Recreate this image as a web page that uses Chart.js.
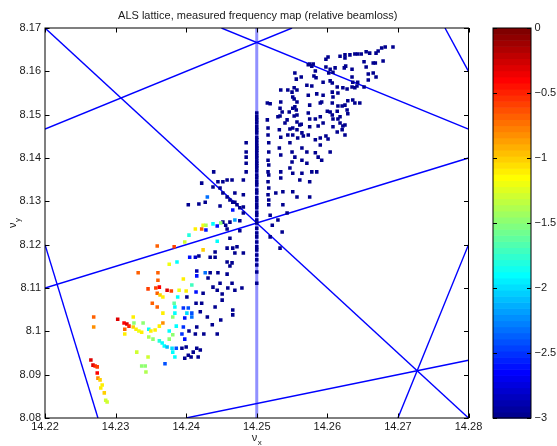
<!DOCTYPE html>
<html><head><meta charset="utf-8">
<script src="https://cdn.jsdelivr.net/npm/chart.js@4.4.1/dist/chart.umd.min.js"></script>
<style>html,body{margin:0;padding:0;background:#fff;}#wrap{width:557px;height:446px;}</style>
</head><body><div id="wrap"><canvas id="c" width="557" height="446"></canvas></div>
<script>
const chartTitle = 'ALS lattice, measured frequency map (relative beamloss)';
const xTicks = [14.22, 14.23, 14.24, 14.25, 14.26, 14.27, 14.28];
const yTicks = [8.08, 8.09, 8.10, 8.11, 8.12, 8.13, 8.14, 8.15, 8.16, 8.17];
const cbTicks = [-3, -2.5, -2, -1.5, -1, -0.5, 0];
const lossRange = [-3, 0];

// resonance lines (endpoints in tune space)
const resonanceLines = [
  [[14.22, 8.17], [14.28, 8.08]],        // 3nx+2ny=59
  [[14.22, 8.14667], [14.255, 8.17]],    // 2nx-3ny=4
  [[14.245, 8.17], [14.28, 8.14667]],    // 2nx+3ny=53
  [[14.22, 8.11], [14.28, 8.14]],        // nx-2ny=-2
  [[14.22, 8.12], [14.2275, 8.08]],      // 4nx+ny=65
  [[14.24, 8.08], [14.28, 8.09333]],     // nx-3ny=-10
  [[14.27, 8.08], [14.28, 8.12]],        // 4nx-ny=49
  [[14.27667, 8.17], [14.28, 8.16]]      // 3nx+ny=51
];
const integerLine = [[14.25, 8.08], [14.25, 8.17]];

// surviving particles (beamloss <= -3)
const upperCluster = [[14.2693,8.1656],[14.2682,8.1656],[14.2677,8.1654],[14.2672,8.1647],[14.2669,8.1642],[14.2660,8.1642],[14.2655,8.1645],[14.2648,8.1640],[14.2643,8.1640],[14.2639,8.1640],[14.2632,8.1638],[14.2625,8.1638],[14.2618,8.1635],[14.2625,8.1631],[14.2601,8.1633],[14.2598,8.1628],[14.2652,8.1622],[14.2665,8.1619],[14.2668,8.1619],[14.2679,8.1624],[14.2655,8.1610],[14.2635,8.1605],[14.2624,8.1608],[14.2626,8.1612],[14.2611,8.1608],[14.2604,8.1605],[14.2598,8.1610],[14.2580,8.1617],[14.2575,8.1617],[14.2573,8.1615],[14.2578,8.1612],[14.2583,8.1601],[14.2602,8.1596],[14.2608,8.1598],[14.2658,8.1594],[14.2665,8.1596],[14.2669,8.1587],[14.2635,8.1587],[14.2636,8.1575],[14.2643,8.1575],[14.2642,8.1566],[14.2635,8.1564],[14.2628,8.1559],[14.2639,8.1562],[14.2658,8.1580],[14.2652,8.1564],[14.2581,8.1589],[14.2584,8.1585],[14.2554,8.1596],[14.2563,8.1587],[14.2556,8.1582],[14.2594,8.1575],[14.2604,8.1578],[14.2607,8.1573],[14.2614,8.1564],[14.2571,8.1568],[14.2578,8.1566],[14.2553,8.1562],[14.2557,8.1557],[14.2607,8.1552],[14.2615,8.1550],[14.2622,8.1562],[14.2585,8.1548],[14.2594,8.1545],[14.2573,8.1545],[14.2551,8.1541],[14.2553,8.1536],[14.2557,8.1529],[14.2608,8.1541],[14.2592,8.1529],[14.2590,8.1527],[14.2575,8.1522],[14.2607,8.1527],[14.2629,8.1532],[14.2636,8.1534],[14.2639,8.1527],[14.2646,8.1527],[14.2615,8.1520],[14.2621,8.1520],[14.2625,8.1522],[14.2554,8.1518],[14.2551,8.1515],[14.2556,8.1511],[14.2600,8.1508],[14.2604,8.1506],[14.2614,8.1508],[14.2628,8.1511],[14.2573,8.1504],[14.2557,8.1499],[14.2553,8.1497],[14.2629,8.1502],[14.2590,8.1495],[14.2608,8.1490],[14.2615,8.1490],[14.2575,8.1490],[14.2583,8.1490],[14.2557,8.1483],[14.2563,8.1478],[14.2618,8.1481],[14.2587,8.1474],[14.2575,8.1472],[14.2608,8.1472],[14.2622,8.1474],[14.2551,8.1469],
[14.2534,8.1557],[14.2544,8.1557],[14.2550,8.1552],[14.2519,8.1525],[14.2534,8.1529],[14.2533,8.1515],[14.2536,8.1506],[14.2546,8.1506],[14.2543,8.1488],[14.2533,8.1497],[14.2561,8.1476],[14.2557,8.1465],[14.2547,8.1467],[14.2566,8.1451]];

const middleCluster = [[14.2485,8.1435],[14.2485,8.1414],[14.2485,8.1402],[14.2485,8.1388],[14.2485,8.1368],[14.2481,8.1349],[14.2465,8.1349],[14.2481,8.1315],
[14.2515,8.1527],[14.2515,8.1488],[14.2516,8.1469],[14.2516,8.1453],[14.2517,8.1435],[14.2517,8.1414],[14.2516,8.1395],[14.2517,8.1384],[14.2516,8.1368],[14.2517,8.1361],[14.2516,8.1345],[14.2517,8.1331],[14.2516,8.1315],[14.2517,8.1303],[14.2517,8.1292],
[14.2530,8.1495],[14.2532,8.1465],[14.2532,8.1423],[14.2527,8.1319],[14.2534,8.1448],[14.2534,8.1407],[14.2534,8.1368],[14.2534,8.1354],[14.2540,8.1481],[14.2544,8.1453],[14.2551,8.1453],[14.2558,8.1446],[14.2564,8.1458],[14.2547,8.1435],[14.2550,8.1414],[14.2554,8.1402],[14.2564,8.1395],[14.2564,8.1423],[14.2571,8.1414],[14.2550,8.1391],[14.2547,8.1377],[14.2551,8.1365],[14.2564,8.1365],[14.2537,8.1322],[14.2551,8.1322],[14.2557,8.1310],[14.2537,8.1292],[14.2561,8.1349],[14.2575,8.1345],[14.2575,8.1310],[14.2573,8.1453],[14.2583,8.1442],[14.2594,8.1481],[14.2571,8.1388],[14.2583,8.1412],[14.2587,8.1402],[14.2592,8.1395],[14.2590,8.1446],[14.2590,8.1430],[14.2604,8.1414],[14.2601,8.1444],[14.2585,8.1368],[14.2578,8.1368],[14.2607,8.1499],[14.2618,8.1495],[14.2625,8.1476],[14.2621,8.1465],[14.2614,8.1460],[14.2625,8.1453],[14.2598,8.1451]];

const onIntegerLineY = [8.1504,8.1495,8.1488,8.1481,8.1472,8.1465,8.1458,8.1448,8.1442,8.1435,8.1428,8.1423,8.1418,8.1412,8.1405,8.1400,8.1393,8.1388,8.1382,8.1377,8.1370,8.1361,8.1354,8.1345,8.1338,8.1326,8.1319,8.1308,8.1301,8.1292,8.1285,8.1275,8.1268,8.1257,8.1250,8.1238,8.1227,8.1218,8.1206,8.1195,8.1188,8.1176,8.1165,8.1153,8.1137,8.1111];

const lowerCluster = [[14.2439,8.1368],[14.2422,8.1342],[14.2445,8.1345],[14.2452,8.1345],[14.2458,8.1349],[14.2438,8.1333],[14.2448,8.1331],[14.2452,8.1319],[14.2458,8.1310],[14.2462,8.1303],[14.2466,8.1298],[14.2472,8.1292],[14.2476,8.1285],[14.2469,8.1319],[14.2403,8.1292],[14.2418,8.1294],
[14.2427,8.1298],[14.2448,8.1289],[14.2469,8.1298],[14.2481,8.1287],[14.2481,8.1273],[14.2519,8.1268],[14.2522,8.1245],[14.2530,8.1257],[14.2543,8.1273],[14.2536,8.1229],[14.2519,8.1218],[14.2533,8.1192],[14.2462,8.1252],[14.2476,8.1255],[14.2452,8.1252],[14.2456,8.1245],[14.2458,8.1236],[14.2476,8.1232],[14.2462,8.1215],[14.2472,8.1195],[14.2466,8.1192],[14.2458,8.1192],[14.2441,8.1183],[14.2481,8.1181],[14.2469,8.1181],[14.2441,8.1171],[14.2434,8.1171],[14.2418,8.1174],[14.2458,8.1160],[14.2465,8.1158],[14.2462,8.1151],[14.2434,8.1135],[14.2445,8.1135],[14.2458,8.1132],[14.2431,8.1123],[14.2448,8.1111],[14.2465,8.1111],[14.2438,8.1102],[14.2444,8.1095],[14.2459,8.1100],[14.2469,8.1095],[14.2479,8.1100],[14.2424,8.1088],[14.2451,8.1086],
[14.2422,8.1065],[14.2414,8.1065],[14.2441,8.1056],[14.2451,8.1072],[14.2466,8.1049],[14.2466,8.1038],[14.2430,8.1033],[14.2449,8.1026],[14.2437,8.1015],[14.2415,8.1010],[14.2413,8.0994],[14.2425,8.0994],[14.2444,8.0994],[14.2404,8.1001],[14.2400,8.0964],[14.2415,8.0961],[14.2410,8.0952],[14.2403,8.0945],[14.2398,8.0938],[14.2407,8.0941],[14.2420,8.0957],[14.2417,8.0941],[14.2394,8.0961],[14.2420,8.1045],[14.2401,8.1079]];

// particles with measurable loss: [nux, nuy, log relative beamloss]
const lossyPoints = [[14.2430,8.1310,-2.3],[14.2466,8.1280,-2.6],[14.2413,8.1236,-1.1],[14.2422,8.1236,-0.7],[14.2424,8.1245,-1.2],[14.2428,8.1245,-1.4],[14.2438,8.1248,-1.9],[14.2449,8.1250,-1.5],[14.2444,8.1243,-2.6],[14.2469,8.1257,-2.2],[14.2428,8.1234,-2.6],[14.2404,8.1222,-1.8],[14.2398,8.1206,-1.3],[14.2444,8.1208,-1.9],[14.2359,8.1197,-0.7],[14.2383,8.1195,-0.6],[14.2424,8.1188,-1.0],[14.2376,8.1155,-1.2],[14.2387,8.1160,-1.9],[14.2405,8.1171,-2.6],[14.2413,8.1171,-2.8],[14.2332,8.1135,-0.7],[14.2360,8.1135,-0.7],[14.2415,8.1139,-2.9],[14.2415,8.1128,-2.6],[14.2427,8.1135,-2.3],[14.2360,8.1118,-0.7],[14.2396,8.1121,-1.1],[14.2408,8.1107,-1.7],[14.2346,8.1098,-0.6],[14.2357,8.1100,-0.6],[14.2362,8.1102,-0.4],[14.2359,8.1088,-0.7],[14.2363,8.1084,-1.0],[14.2367,8.1079,-1.1],[14.2373,8.1095,-0.3],[14.2379,8.1093,-0.6],[14.2390,8.1095,-1.2],[14.2400,8.1093,-1.1],[14.2414,8.1091,-2.6],[14.2388,8.1079,-1.9],[14.2383,8.1065,-1.6],[14.2384,8.1056,-1.9],[14.2396,8.1054,-2.5],[14.2403,8.1054,-2.4],[14.2352,8.1065,-0.7],[14.2359,8.1056,-0.7],[14.2367,8.1042,-1.1],[14.2384,8.1042,-1.9],[14.2401,8.1042,-2.0],[14.2408,8.1042,-2.4],[14.2381,8.1033,-1.5],[14.2398,8.1031,-2.6],[14.2408,8.1033,-2.3],[14.2303,8.1028,-0.3],[14.2325,8.1033,-1.1],[14.2312,8.1019,-0.4],[14.2316,8.1017,-0.3],[14.2319,8.1012,-0.5],[14.2313,8.1005,-0.7],[14.2325,8.1010,-1.0],[14.2329,8.1005,-1.1],[14.2333,8.1001,-1.2],[14.2337,8.0998,-1.1],[14.2326,8.1019,-1.5],[14.2339,8.1019,-1.5],[14.2313,8.0994,-1.1],[14.2347,8.1005,-1.9],[14.2350,8.1001,-1.1],[14.2356,8.1003,-1.1],[14.2362,8.1012,-1.1],[14.2367,8.1019,-0.8],[14.2376,8.1001,-1.9],[14.2381,8.0992,-1.5],[14.2386,8.1012,-1.9],[14.2396,8.1010,-2.5],[14.2394,8.0994,-2.5],[14.2398,8.0982,-2.6],[14.2347,8.0987,-1.4],[14.2353,8.0982,-1.5],[14.2362,8.0978,-1.8],[14.2366,8.0973,-1.9],[14.2369,8.0966,-1.9],[14.2376,8.0982,-1.5],[14.2373,8.0964,-2.1],[14.2380,8.0961,-2.0],[14.2386,8.0961,-2.4],[14.2381,8.0952,-1.9],[14.2384,8.0941,-1.9],[14.2330,8.0952,-1.3],[14.2346,8.0941,-1.3],[14.2337,8.0920,-1.5],[14.2342,8.0920,-1.5],[14.2343,8.0906,-1.4],[14.2370,8.0925,-2.4],[14.2269,8.1033,-0.7],[14.2269,8.1010,-0.8],
[14.2265,8.0934,-0.3],[14.2268,8.0922,-0.3],[14.2271,8.0920,-0.5],[14.2274,8.0918,-0.6],[14.2274,8.0904,-0.4],[14.2275,8.0892,-0.8],[14.2278,8.0888,-1.0],[14.2281,8.0876,-1.1],[14.2279,8.0869,-1.1],[14.2284,8.0858,-1.0],[14.2286,8.0841,-1.3],[14.2288,8.0837,-1.3]];

const FONT = '"Liberation Sans", Arial, Helvetica, sans-serif';
const TXT = '#1a1a1a';

function jetColor(i) {
  const u = k => (k < 1 || k > 47) ? 0 : (k <= 16 ? k / 16 : (k <= 31 ? 1 : (48 - k) / 16));
  const n = i + 1;
  const r = u(n - 24), g = u(n - 8), b = u(n + 8);
  return 'rgb(' + Math.round(r * 255) + ',' + Math.round(g * 255) + ',' + Math.round(b * 255) + ')';
}
function lossIndex(v) {
  const t = (v - lossRange[0]) / (lossRange[1] - lossRange[0]);
  return Math.max(0, Math.min(63, Math.floor(t * 64)));
}
function fmt(v) { return String(+(+v).toFixed(2)); }
function fmtCb(v) { return v === 0 ? '0' : (v < 0 ? '\u2212' + String(Math.abs(v)) : String(v)); }

const survivors = upperCluster.concat(middleCluster, lowerCluster)
  .concat(onIntegerLineY.map(y => [14.25, y]))
  .map(p => ({x: p[0], y: p[1]}));
const lossy = lossyPoints.map(p => ({x: p[0], y: p[1]}));
const lossyColors = lossyPoints.map(p => jetColor(lossIndex(p[2])));

const datasets = [];
datasets.push({data: integerLine.map(p => ({x: p[0], y: p[1]})), showLine: true, pointRadius: 0,
  borderColor: 'rgba(70,70,255,0.6)', borderWidth: 3, order: 3});
resonanceLines.forEach(l => datasets.push({data: l.map(p => ({x: p[0], y: p[1]})), showLine: true,
  pointRadius: 0, borderColor: '#0000ff', borderWidth: 1.4, order: 2}));
datasets.push({data: survivors, pointStyle: 'rect', pointRadius: 2.5, pointBorderWidth: 0,
  backgroundColor: jetColor(0), borderWidth: 0, order: 1});
datasets.push({data: lossy, pointStyle: 'rect', pointRadius: 2.5, pointBorderWidth: 0,
  backgroundColor: lossyColors, borderWidth: 0, order: 0});

const decor = {
  id: 'decor',
  afterDraw(chart) {
    const {ctx, chartArea: a, scales} = chart;
    const xs = scales.x, ys = scales.y, cb = scales.cb;
    ctx.save();
    // colorbar
    const L = a.right + 24.5, W = 38;
    for (let i = 0; i < 64; i++) {
      const v0 = lossRange[0] + (lossRange[1] - lossRange[0]) * i / 64;
      const v1 = lossRange[0] + (lossRange[1] - lossRange[0]) * (i + 1) / 64;
      const p0 = cb.getPixelForValue(v0), p1 = cb.getPixelForValue(v1);
      ctx.fillStyle = jetColor(i);
      ctx.fillRect(L, p1, W, p0 - p1 + 0.6);
    }
    ctx.strokeStyle = '#000'; ctx.lineWidth = 1;
    ctx.strokeRect(L, a.top, W, a.bottom - a.top);
    ctx.beginPath();
    cbTicks.forEach(v => {
      const p = Math.round(cb.getPixelForValue(v)) + 0.5;
      ctx.moveTo(L, p); ctx.lineTo(L + 4, p);
      ctx.moveTo(L + W - 4, p); ctx.lineTo(L + W, p);
    });
    ctx.stroke();
    // axes box and inward ticks
    ctx.strokeRect(a.left, a.top, a.right - a.left, a.bottom - a.top);
    ctx.beginPath();
    xTicks.forEach(v => {
      const p = Math.round(xs.getPixelForValue(v)) + 0.5;
      ctx.moveTo(p, a.bottom); ctx.lineTo(p, a.bottom - 4.5);
      ctx.moveTo(p, a.top); ctx.lineTo(p, a.top + 4.5);
    });
    yTicks.forEach(v => {
      const p = Math.round(ys.getPixelForValue(v)) + 0.5;
      ctx.moveTo(a.left, p); ctx.lineTo(a.left + 4.5, p);
      ctx.moveTo(a.right, p); ctx.lineTo(a.right - 4.5, p);
    });
    ctx.stroke();
    // title
    ctx.fillStyle = TXT;
    ctx.font = '11px ' + FONT;
    ctx.textAlign = 'center'; ctx.textBaseline = 'alphabetic';
    ctx.fillText(chartTitle, (a.left + a.right) / 2 + 1, 18.5);
    // axis labels
    const nu = (sub, x, y, rot) => {
      ctx.save(); ctx.translate(x, y); ctx.rotate(rot);
      ctx.textAlign = 'left'; ctx.textBaseline = 'alphabetic';
      ctx.font = '11px ' + FONT; ctx.fillText('\u03bd', 0, 0);
      const w = ctx.measureText('\u03bd').width;
      ctx.font = '8px ' + FONT; ctx.fillText(sub, w + 0.5, 3.5);
      ctx.restore();
    };
    nu('x', (a.left + a.right) / 2 - 5, 441, 0);
    nu('y', 16, 228, -Math.PI / 2);
    ctx.restore();
  }
};

new Chart(document.getElementById('c'), {
  type: 'scatter',
  data: {datasets},
  options: {
    responsive: false, animation: false, devicePixelRatio: 1,
    events: [],
    layout: {padding: {left: 0, right: 0, top: 28, bottom: 0}},
    plugins: {legend: {display: false}, tooltip: {enabled: false}, title: {display: false}},
    scales: {
      x: {type: 'linear', position: 'bottom', min: 14.22, max: 14.28,
        afterBuildTicks: s => { s.ticks = xTicks.map(v => ({value: v})); },
        afterFit: s => { s.height = 28; },
        ticks: {callback: v => fmt(v), font: {family: FONT, size: 11}, color: TXT, padding: 2, maxRotation: 0, autoSkip: false},
        grid: {display: false, drawTicks: false}, border: {display: false}},
      y: {type: 'linear', position: 'left', min: 8.08, max: 8.17,
        afterBuildTicks: s => { s.ticks = yTicks.map(v => ({value: v})); },
        afterFit: s => { s.width = 45; },
        ticks: {callback: v => fmt(v), font: {family: FONT, size: 11}, color: TXT, padding: 4, autoSkip: false},
        grid: {display: false, drawTicks: false}, border: {display: false}},
      cb: {type: 'linear', axis: 'y', position: 'right', min: -3, max: 0,
        afterBuildTicks: s => { s.ticks = cbTicks.map(v => ({value: v})); },
        afterFit: s => { s.width = 88.5; },
        ticks: {callback: v => fmtCb(v), font: {family: FONT, size: 11}, color: TXT, padding: 3, autoSkip: false},
        grid: {display: true, drawOnChartArea: false, drawTicks: true, tickLength: 63,
          color: 'rgba(0,0,0,0)', tickColor: 'rgba(0,0,0,0)'}, border: {display: false}}
    }
  },
  plugins: [decor]
});
</script>
</body></html>
